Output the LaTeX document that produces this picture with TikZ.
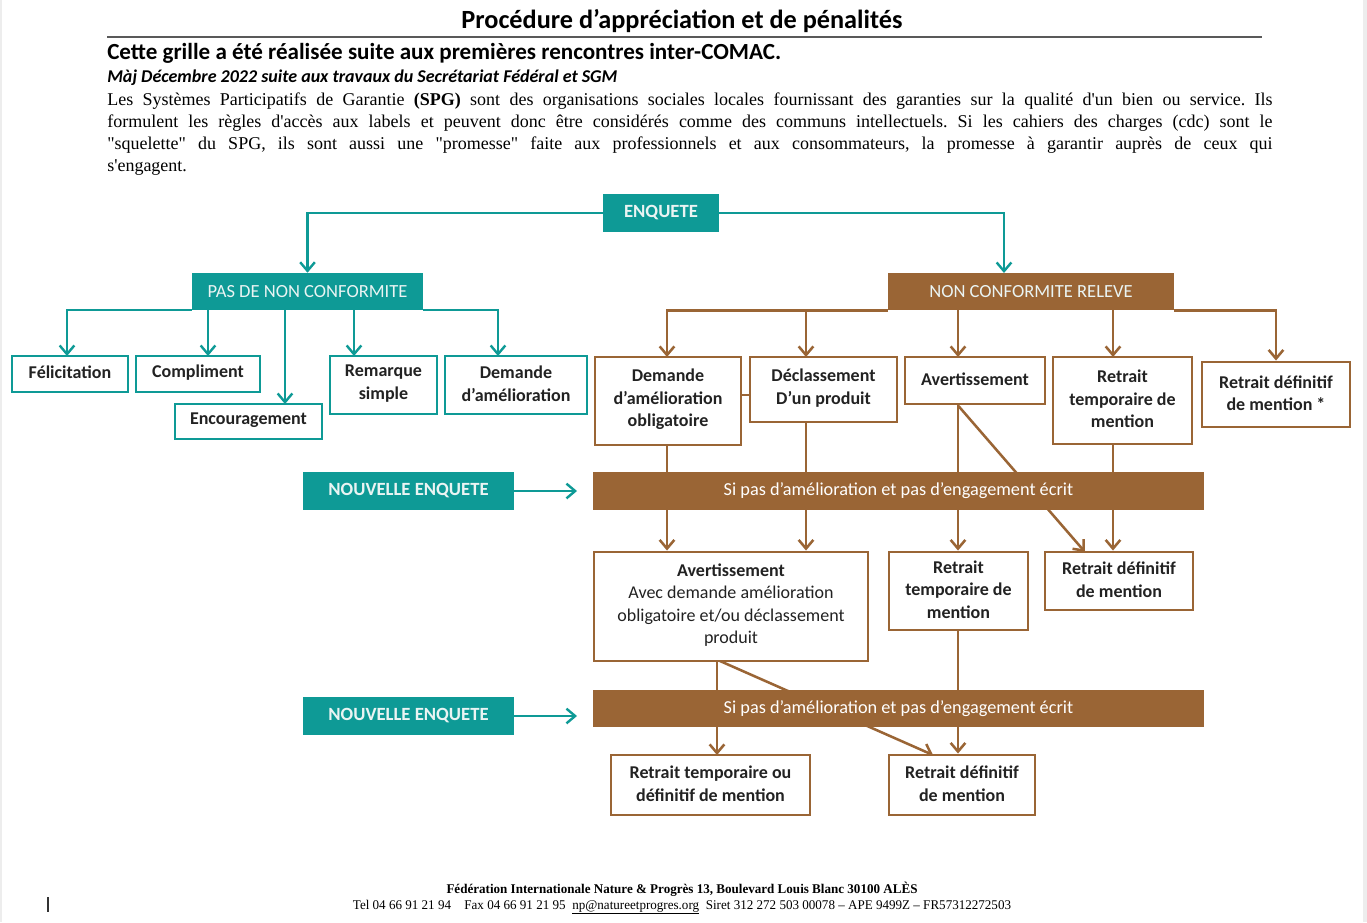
\documentclass[tikz,border=0pt]{standalone}
\usepackage{fontspec}
\setmainfont{Carlito}
\newfontfamily\parafont{Liberation Serif}
\newfontfamily\footfont[FakeStretch=0.98]{Liberation Serif}
\usetikzlibrary{arrows.meta,fit}
\definecolor{tealc}{HTML}{0E9A96}
\definecolor{brownc}{HTML}{9A6535}
\definecolor{lighttxt}{HTML}{EAF4F3}
\definecolor{boxtxt}{HTML}{222222}
\pgfdeclarelayer{back}
\pgfdeclarelayer{bg}
\pgfsetlayers{back,bg,main}
\newcommand\drawbox[8]{%
  \node[#1, fit={(#4,#5) (#6,#7)}] (#3) {};
  \node[#2] (#3-t) at (#3.center) {#8};}
\begin{document}
\begin{tikzpicture}[x=0.75pt,y=-0.75pt,
  tbox/.style={draw=tealc, line width=2.2pt, fill=white, inner sep=0pt},
  bbox/.style={draw=brownc, line width=2.2pt, fill=white, inner sep=0pt},
  tfill/.style={fill=tealc, inner sep=0pt},
  bfill/.style={fill=brownc, inner sep=0pt},
  btxt/.style={inner sep=0pt, yshift=1pt, align=center, text=boxtxt, font=\bfseries\fontsize{13.5}{16.9}\selectfont},
  captxt/.style={inner sep=0pt, text=lighttxt, font=\fontsize{13.9}{16}\selectfont},
  capbtxt/.style={inner sep=0pt, text=lighttxt, font=\bfseries\fontsize{14}{16}\selectfont},
  bartxt/.style={inner sep=0pt, text=white, font=\fontsize{13.7}{16}\selectfont},
  tline/.style={draw=tealc, line width=1.8pt},
  tarrow/.style={tline, -{Straight Barb[length=6.5pt,width=11pt,line width=1.8pt]}},
  bline/.style={draw=brownc, line width=1.9pt},
  barrow/.style={bline, -{Straight Barb[length=6.5pt,width=11pt,line width=1.9pt]}},
  ptxt/.style={anchor=base west, inner sep=0pt, font=\parafont\fontsize{13.5}{16.5}\selectfont},
]
\useasboundingbox (0,0) rectangle (1367,922);
\begin{pgfonlayer}{back}
\fill[white] (0,0) rectangle (1367,922);
\fill[black!7] (1363,0) rectangle (1367,922);
\fill[black!7] (0,0) rectangle (2,922);
\end{pgfonlayer}

% header
\node[anchor=base, inner sep=0pt, font=\bfseries\fontsize{19.7}{24}\selectfont] (title) at (682,28) {Procédure d’appréciation et de pénalités};
\coordinate (rl) at (107,37);
\coordinate (rr) at (1262,37);
\draw[black!65, line width=0.9pt] (rl) -- (rr);
\node[anchor=base west, inner sep=0pt, font=\bfseries\fontsize{17.3}{20}\selectfont] (sub) at (107,59) {Cette grille a été réalisée suite aux premières rencontres inter-COMAC.};
\node[anchor=base west, inner sep=0pt, font=\bfseries\itshape\fontsize{13.5}{16}\selectfont] (maj) at (107,82) {Màj Décembre 2022 suite aux travaux du Secrétariat Fédéral et SGM};
\node[ptxt] (p1) at (107,105)
  {\frenchspacing\makebox[874pt][s]{Les Systèmes Participatifs de Garantie \textbf{(SPG)} sont des organisations sociales locales fournissant des garanties sur la qualité d\textquotesingle un bien ou service. Ils}};
\node[ptxt] (p2) at (107,127)
  {\frenchspacing\makebox[874pt][s]{formulent les règles d\textquotesingle accès aux labels et peuvent donc être considérés comme des communs intellectuels. Si les cahiers des charges (cdc) sont le}};
\node[ptxt] (p3) at (107,149)
  {\frenchspacing\makebox[874pt][s]{\textquotedbl squelette\textquotedbl\ du SPG, ils sont aussi une \textquotedbl promesse\textquotedbl\ faite aux professionnels et aux consommateurs, la promesse à garantir auprès de ceux qui}};
\node[ptxt] (p4) at (107,171) {s\textquotesingle engagent.};

% top level
\drawbox{tfill}{capbtxt}{enq}{603}{194}{719}{232}{ENQUETE}
\drawbox{tfill}{captxt}{pas}{192}{273}{423}{310}{PAS DE NON CONFORMITE}
\drawbox{bfill}{captxt}{ncr}{888}{273}{1174}{310}{NON CONFORMITE RELEVE}

% teal children
\drawbox{tbox}{btxt}{fel}{12}{356}{128}{392}{Félicitation}
\drawbox{tbox}{btxt}{comp}{136}{356}{260}{392}{Compliment}
\drawbox{tbox}{btxt}{enc}{175}{404}{322}{439}{Encouragement}
\drawbox{tbox}{btxt}{rem}{330}{356}{437}{414}{Remarque\\simple}
\drawbox{tbox}{btxt}{dam}{445}{356}{587}{414}{Demande\\d’amélioration}

% brown children
\drawbox{bbox}{btxt}{dao}{595}{357}{741}{445}{Demande\\d’amélioration\\obligatoire}
\drawbox{bbox}{btxt}{dec}{750}{357}{897}{422}{Déclassement\\D’un produit}
\drawbox{bbox}{btxt}{av1}{905}{357}{1045}{404}{Avertissement}
\drawbox{bbox}{btxt}{rt1}{1053}{357}{1192}{444}{Retrait\\temporaire de\\mention}
\drawbox{bbox}{btxt}{rd1}{1202}{362}{1350}{427}{Retrait définitif\\de mention *}

% first new survey
\drawbox{tfill}{capbtxt}{ne1}{303}{472}{514}{510}{NOUVELLE ENQUETE}
\drawbox{bfill}{bartxt}{bar1}{593}{472}{1204}{510}{Si pas d’amélioration et pas d’engagement écrit}

\drawbox{bbox}{btxt}{av2}{594}{552}{868}{661}{Avertissement\\\mdseries Avec demande amélioration\\\mdseries obligatoire et/ou déclassement\\\mdseries produit}
\drawbox{bbox}{btxt}{rt2}{889}{552}{1028}{630}{Retrait\\temporaire de\\mention}
\drawbox{bbox}{btxt}{rd2}{1045}{552}{1193}{610}{Retrait définitif\\de mention}

% second new survey
\drawbox{tfill}{capbtxt}{ne2}{303}{697}{514}{735}{NOUVELLE ENQUETE}
\drawbox{bfill}{bartxt}{bar2}{593}{690}{1204}{727}{Si pas d’amélioration et pas d’engagement écrit}

\drawbox{bbox}{btxt}{rtd3}{611}{755}{810}{815}{Retrait temporaire ou\\définitif de mention}
\drawbox{bbox}{btxt}{rd3}{889}{755}{1035}{815}{Retrait définitif\\de mention}

% helper coordinates
\coordinate (cN) at (1004,273);
\coordinate (cFel) at (67,356);
\coordinate (cComp) at (208,356);
\coordinate (cEnc) at (285,404);
\coordinate (cRem) at (354,356);
\coordinate (cDam) at (498,356);
\coordinate (cNE1) at (577,491);
\coordinate (cNE2) at (577,716);
\coordinate (b1) at (667,357);
\coordinate (b2) at (806,357);
\coordinate (b3) at (958,357);
\coordinate (b4) at (1113,357);
\coordinate (b5) at (717,755);
\coordinate (cMid) at (745,395);
\coordinate (d1) at (1085,552);
\coordinate (d2s) at (720,661);
\coordinate (d2) at (933,755);

\begin{pgfonlayer}{bg}
  % teal connectors
  \draw[tarrow] (enq.west) -| (pas.north);
  \draw[tarrow] (enq.east) -| (cN);
  \draw[tarrow] (pas.south west) -| (cFel);
  \draw[tarrow] (pas.south -| cComp) -- (cComp);
  \draw[tarrow] (pas.south -| cEnc) -- (cEnc);
  \draw[tarrow] (pas.south -| cRem) -- (cRem);
  \draw[tarrow] (pas.south east) -| (cDam);
  \draw[tarrow] (ne1.east) -- (cNE1);
  \draw[tarrow] (ne2.east) -- (cNE2);
  % brown connectors
  \draw[barrow] (ncr.south west) -| (b1);
  \draw[barrow] (ncr.south -| b2) -- (b2);
  \draw[barrow] (ncr.south -| b3) -- (b3);
  \draw[barrow] (ncr.south -| b4) -- (b4);
  \draw[barrow] (ncr.south east) -| (rd1.north);
  \draw[bline] (dao.east |- cMid) -- (dec.west |- cMid);
  \draw[bline] (b1 |- dao.south) -- (b1 |- bar1.north);
  \draw[bline] (b2 |- dec.south) -- (b2 |- bar1.north);
  \draw[bline] (b3 |- av1.south) -- (b3 |- bar1.north);
  \draw[bline] (b4 |- rt1.south) -- (b4 |- bar1.north);
  \draw[barrow] (b3 |- av1.south) -- (d1);
  \draw[barrow] (b1 |- bar1.south) -- (b1 |- av2.north);
  \draw[barrow] (b2 |- bar1.south) -- (b2 |- av2.north);
  \draw[barrow] (b3 |- bar1.south) -- (b3 |- rt2.north);
  \draw[barrow] (b4 |- bar1.south) -- (b4 |- rd2.north);
  \draw[bline] (b5 |- av2.south) -- (b5 |- bar2.north);
  \draw[barrow] (d2s) -- (d2);
  \draw[barrow] (b5 |- bar2.south) -- (b5);
  \draw[bline] (b3 |- rt2.south) -- (b3 |- bar2.north);
  \draw[barrow] (b3 |- bar2.south) -- (b3 |- rd3.north);
\end{pgfonlayer}

% footer
\node[anchor=base, inner sep=0pt, font=\footfont\bfseries\fontsize{10}{12}\selectfont] (f1) at (682,893)
  {Fédération Internationale Nature \& Progrès 13, Boulevard Louis Blanc 30100 ALÈS};
\node[anchor=base, inner sep=0pt, font=\footfont\fontsize{10}{12}\selectfont] (f2) at (682,909)
  {Tel 04 66 91 21 94\quad Fax 04 66 91 21 95\enspace \underline{np@natureetprogres.org}\enspace Siret 312 272 503 00078 – APE 9499Z – FR57312272503};
\coordinate (cur1) at (48,897);
\coordinate (cur2) at (48,912);
\draw[black!80, line width=1.2pt] (cur1) -- (cur2);
\end{tikzpicture}
\end{document}
